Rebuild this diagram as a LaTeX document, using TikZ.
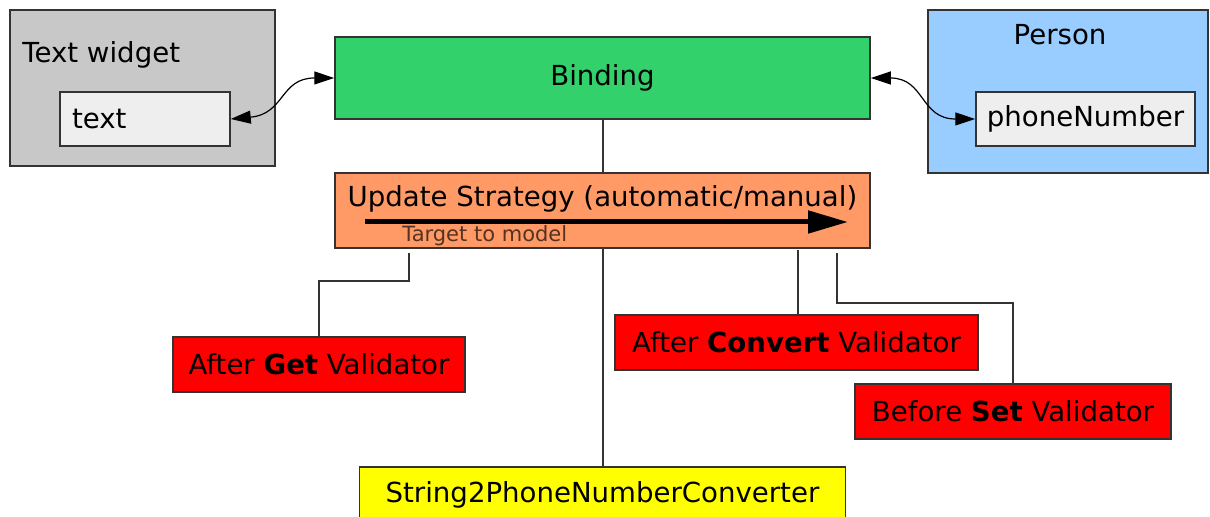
\documentclass[tikz,border=0pt]{standalone}
\usepackage{fontspec}
\setmainfont{DejaVu Sans}
\usepackage{xcolor}
\usepackage{tikz}
\usetikzlibrary{arrows.meta}
\usetikzlibrary{calc}

\definecolor{widgetgray}{HTML}{C8C8C8}
\definecolor{fieldgray}{HTML}{EEEEEE}
\definecolor{bindgreen}{HTML}{33D16B}
\definecolor{personblue}{HTML}{99CCFF}
\definecolor{strategyorange}{HTML}{FF9966}
\definecolor{valired}{HTML}{FF0000}
\definecolor{convyellow}{HTML}{FFFF00}
\definecolor{notebrown}{HTML}{553322}

\begin{document}
\begin{tikzpicture}[x=0.5pt, y=-0.5pt]
\tikzstyle{box}     = [rectangle, draw=black!80, line width=0.75pt, inner sep=0pt, font=\fontsize{13.8}{16}\selectfont]
\tikzstyle{caption} = [inner sep=0pt, font=\fontsize{13.8}{16}\selectfont]
\tikzstyle{link}    = [draw=black!80, line width=0.75pt]
\tikzstyle{wave}    = [black, line width=0.6pt, {Triangle[length=10pt,width=6.5pt]}-{Triangle[length=10pt,width=6.5pt]}]
\clip (0,0) rectangle (1210,517);
 %%Widget and model
\node [box, fill=widgetgray, minimum width=132.5pt, minimum height=78pt](widget) at (142.5, 88) {};
\node [caption, anchor=base west](widgetname) at (22, 63) {Text widget};
\node [box, fill=fieldgray, minimum width=85pt, minimum height=27pt, text width=73pt, inner xsep=6pt, align=left](text) at (145, 119) {text};
\node [box, fill=personblue, minimum width=140pt, minimum height=81.5pt](person) at (1068, 91.5) {};
\node [caption, anchor=base](personname) at (1060, 45) {Person};
\node [box, fill=fieldgray, minimum width=109.5pt, minimum height=27pt](phone) at (1085.5, 119) {phoneNumber};
 %%Binding
\node [box, fill=bindgreen, minimum width=267.5pt, minimum height=41pt](binding) at (602.5, 78) {Binding};
\node [box, fill=strategyorange, minimum width=267.5pt, minimum height=37.5pt](strategy) at (602.5, 210.5) {};
\node [caption, anchor=base](strategyname) at (602.5, 207) {Update Strategy (automatic/manual)};
\coordinate (dirstart) at (365, 222);
\coordinate (dirend) at (848, 222);
\draw [line width=2.5pt, -{Triangle[length=20pt,width=11pt]}] (dirstart) -- (dirend);
\node [inner sep=0pt, anchor=base west, text=notebrown, font=\fontsize{10.5}{12}\selectfont](direction) at (402, 242) {Target to model};
 %%Validators and converter
\node [box, fill=valired, minimum width=146pt, minimum height=27.5pt](getval) at (319, 364.5) {After \textbf{Get} Validator};
\node [box, fill=valired, minimum width=181.5pt, minimum height=27.5pt](convval) at (796.5, 342.5) {After \textbf{Convert} Validator};
\node [box, fill=valired, minimum width=158pt, minimum height=27.5pt](setval) at (1013, 411.5) {Before \textbf{Set} Validator};
\node [box, fill=convyellow, minimum width=243pt, minimum height=27.5pt](converter) at (602.5, 494.5) {String2PhoneNumberConverter};
 %%Edges
\draw [link] ([xshift=0.25pt]binding.south) -- ([xshift=0.25pt]strategy.north);
\draw [link] ([xshift=0.25pt]strategy.south) -- ([xshift=0.25pt]converter.north);
\coordinate (getfoot) at (409, 253);
\draw [link] (getfoot) -- ++(0, 28) -| (getval.north);
\coordinate (convfoot) at (798, 250);
\draw [link] (convfoot) -- (convfoot |- convval.north);
\coordinate (setfoot) at (837, 253);
\draw [link] (setfoot) -- ++(0, 50) -| (setval.north);
\draw [wave] (text.east) .. controls (285, 114) and (280, 78) .. (binding.west);
\draw [wave] (binding.east) .. controls (925, 78) and (920, 119) .. (phone.west);
\end{tikzpicture}
\end{document}
